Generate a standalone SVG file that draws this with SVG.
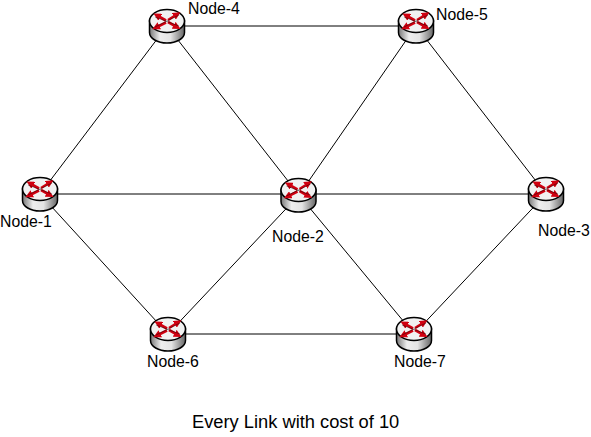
<svg xmlns="http://www.w3.org/2000/svg" width="591" height="437" viewBox="0 0 591 437">
<style>
text{font-family:"Liberation Sans",Arial,sans-serif;font-size:15.800px;fill:#000}
.l{stroke:#000;stroke-width:1;fill:none}
.o{stroke:#000;stroke-width:1.500}
.a{stroke:#d00010;stroke-width:2.600;fill:none;marker-end:url(#h)}
</style>
<defs>
<linearGradient id="g" x1="0" x2="1" y1="0" y2="0"><stop offset="0" stop-color="#777"/><stop offset=".3" stop-color="#eeeeee"/><stop offset=".6" stop-color="#e4e4e4"/><stop offset="1" stop-color="#666"/></linearGradient>
<marker id="h" markerWidth="3" markerHeight="3" refX="1" refY="1.500" orient="auto"><path d="M0 0L3 1.500L0 3Z" fill="#d00010"/></marker>
<g id="router">
<path class="o" fill="url(#g)" d="M-17.500-5V6.500C-17.500 12.500-9.500 17 0 17S17.500 12.500 17.500 6.500V-5Z"/>
<ellipse class="o" cx="0" cy="-5" rx="17.500" ry="11.500" fill="#f1f1f1"/>
<path class="a" d="M-1-5.500L-9-10"/><path class="a" d="M1-6L9-11"/><path class="a" d="M-1-3.500L-10 1"/><path class="a" d="M1-4L9 .5"/>
<path d="M-12-9L12 0M-12 1L12-11" stroke="#000" stroke-width=".6" opacity=".7"/>
</g>
</defs>
<g id="connectors">
<path class="l" d="M40 194H546M167 26H416M168 334H414M40 194L167 26M167 26L299 195L414 334M40 194L168 334L299 195L416 26L546 194L414 334"/>
</g>
<g id="node-1"><use href="#router" x="40" y="194"/><text x="0" y="227">Node-1</text></g>
<g id="node-2"><use href="#router" x="298.500" y="195"/><text x="272" y="242">Node-2</text></g>
<g id="node-3"><use href="#router" x="546" y="194"/><text x="538" y="236">Node-3</text></g>
<g id="node-4"><use href="#router" x="167" y="26"/><text x="188" y="14">Node-4</text></g>
<g id="node-5"><use href="#router" x="416" y="26"/><text x="436" y="20">Node-5</text></g>
<g id="node-6"><use href="#router" x="168" y="334"/><text x="147" y="367">Node-6</text></g>
<g id="node-7"><use href="#router" x="414" y="334"/><text x="394" y="367">Node-7</text></g>
<text x="192" y="428" style="font-size:18.300px">Every Link with cost of 10</text>
</svg>
